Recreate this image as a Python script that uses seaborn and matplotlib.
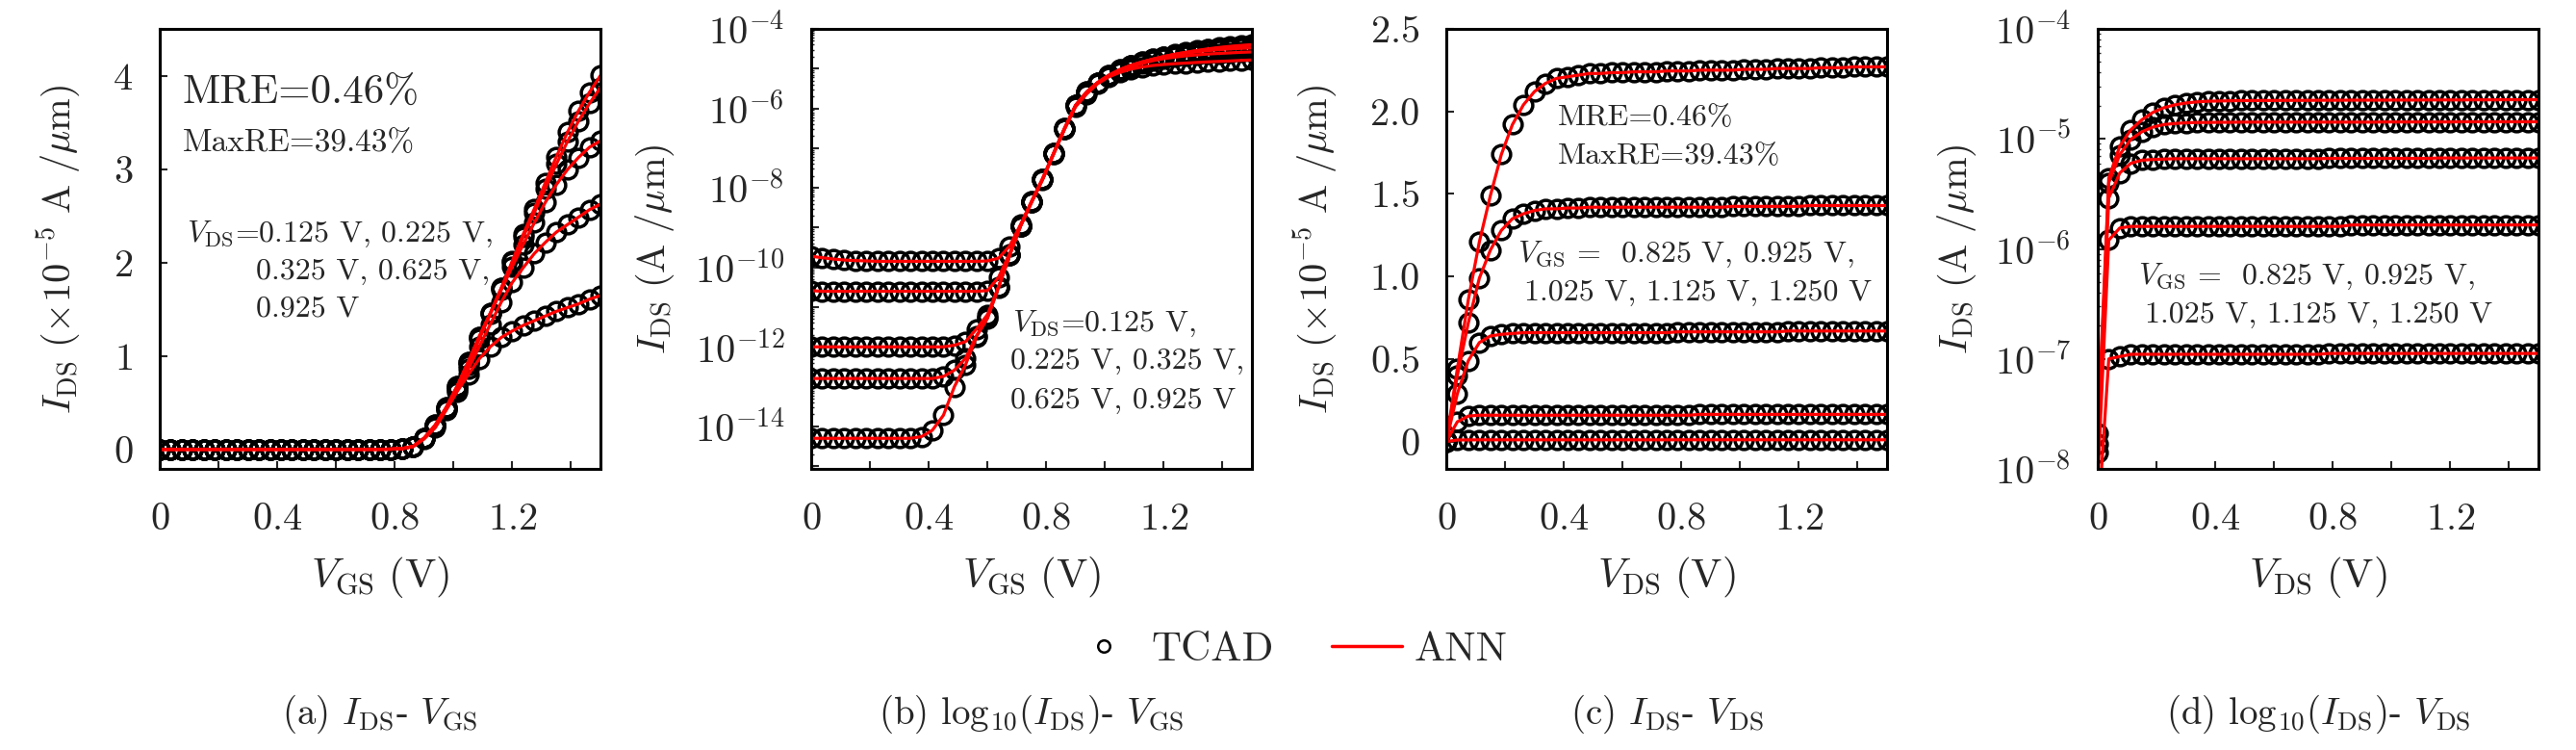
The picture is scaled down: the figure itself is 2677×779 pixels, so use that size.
import numpy as np
import pandas as pd
import matplotlib
matplotlib.use('Agg')
import matplotlib.pyplot as plt
import seaborn as sns
from matplotlib.ticker import MultipleLocator, FuncFormatter, LogLocator, NullFormatter
from matplotlib.lines import Line2D

# sweep voltage (V), same grid for the V_GS and V_DS sweeps
v_sweep = [0.0, 0.0375, 0.075, 0.1125, 0.15, 0.1875, 0.225, 0.2625, 0.3, 0.3375,
           0.375, 0.4125, 0.45, 0.4875, 0.525, 0.5625, 0.6, 0.6375, 0.675, 0.7125,
           0.75, 0.7875, 0.825, 0.8625, 0.9, 0.9375, 0.975, 1.0125, 1.05, 1.0875,
           1.125, 1.1625, 1.2, 1.2375, 1.275, 1.3125, 1.35, 1.3875, 1.425, 1.4625, 1.5]

# I_DS - V_GS (A/um), one list per V_DS
ids_vds0925 = [1.9e-10, 1.75e-10, 1.62e-10, 1.53e-10, 1.48e-10, 1.45e-10, 1.42e-10, 1.42e-10, 1.42e-10, 1.42e-10,
               1.42e-10, 1.42e-10, 1.42e-10, 1.42e-10, 1.42e-10, 1.42e-10, 1.45e-10, 1.7e-10, 3.4e-10, 1.2e-9,
               4.6e-9, 1.7e-8, 7.5e-8, 3.2e-7, 1.2e-6, 2.6e-6, 4.5e-6, 6.8e-6, 9.4e-6, 1.21e-5,
               1.46e-5, 1.73e-5, 2.02e-5, 2.31e-5, 2.58e-5, 2.86e-5, 3.14e-5, 3.40e-5, 3.63e-5, 3.83e-5, 4.01e-5]
ids_vds0625 = [2.6e-11, 2.5e-11, 2.5e-11, 2.5e-11, 2.5e-11, 2.5e-11, 2.5e-11, 2.5e-11, 2.5e-11, 2.5e-11,
               2.5e-11, 2.5e-11, 2.5e-11, 2.5e-11, 2.5e-11, 2.5e-11, 2.6e-11, 5.6e-11, 2.2e-10, 1.1e-9,
               4.5e-9, 1.7e-8, 7.4e-8, 3.2e-7, 1.2e-6, 2.6e-6, 4.5e-6, 6.8e-6, 9.4e-6, 1.21e-5,
               1.46e-5, 1.73e-5, 2.01e-5, 2.28e-5, 2.54e-5, 2.80e-5, 3.06e-5, 3.30e-5, 3.52e-5, 3.71e-5, 3.88e-5]
ids_vds0325 = [1.0e-12, 1.0e-12, 1.0e-12, 1.0e-12, 1.0e-12, 1.0e-12, 1.0e-12, 1.0e-12, 1.0e-12, 1.0e-12,
               1.0e-12, 1.0e-12, 1.0e-12, 1.1e-12, 1.35e-12, 2.8e-12, 6.5e-12, 3.2e-11, 2.0e-10, 1.1e-9,
               4.4e-9, 1.65e-8, 7.3e-8, 3.1e-7, 1.2e-6, 2.5e-6, 4.4e-6, 6.6e-6, 9.1e-6, 1.18e-5,
               1.45e-5, 1.71e-5, 1.96e-5, 2.20e-5, 2.43e-5, 2.65e-5, 2.84e-5, 3.00e-5, 3.13e-5, 3.24e-5, 3.31e-5]
ids_vds0225 = [1.6e-13, 1.6e-13, 1.6e-13, 1.6e-13, 1.6e-13, 1.6e-13, 1.6e-13, 1.6e-13, 1.6e-13, 1.6e-13,
               1.6e-13, 1.6e-13, 1.8e-13, 2.6e-13, 5.1e-13, 1.9e-12, 5.5e-12, 3.2e-11, 2.0e-10, 1.1e-9,
               4.4e-9, 1.65e-8, 7.2e-8, 3.1e-7, 1.2e-6, 2.5e-6, 4.3e-6, 6.4e-6, 8.6e-6, 1.10e-5,
               1.34e-5, 1.58e-5, 1.79e-5, 1.95e-5, 2.10e-5, 2.22e-5, 2.33e-5, 2.41e-5, 2.49e-5, 2.57e-5, 2.63e-5]
ids_vds0125 = [5.0e-15, 5.0e-15, 5.0e-15, 5.0e-15, 5.0e-15, 5.0e-15, 5.0e-15, 5.0e-15, 5.0e-15, 5.0e-15,
               5.5e-15, 8.0e-15, 1.9e-14, 1.0e-13, 3.5e-13, 1.8e-12, 5.2e-12, 3.1e-11, 2.0e-10, 1.1e-9,
               4.3e-9, 1.6e-8, 7.0e-8, 3.0e-7, 1.1e-6, 2.3e-6, 4.2e-6, 6.2e-6, 8.0e-6, 9.7e-6,
               1.10e-5, 1.20e-5, 1.27e-5, 1.33e-5, 1.38e-5, 1.43e-5, 1.48e-5, 1.52e-5, 1.56e-5, 1.61e-5, 1.65e-5]

# I_DS - V_DS (x1e-5 A/um), one list per V_GS
ids_vgs1250 = [0.0021, 0.44, 0.86, 1.21, 1.49, 1.74, 1.92, 2.04, 2.12, 2.17,
               2.20, 2.21, 2.22, 2.23, 2.23, 2.235, 2.235, 2.24, 2.24, 2.24,
               2.245, 2.245, 2.245, 2.25, 2.25, 2.25, 2.25, 2.255, 2.255, 2.255,
               2.26, 2.26, 2.26, 2.26, 2.265, 2.265, 2.265, 2.27, 2.27, 2.27, 2.27]
ids_vgs1125 = [0.0017, 0.40, 0.72, 0.99, 1.16, 1.28, 1.35, 1.38, 1.40, 1.41,
               1.41, 1.415, 1.415, 1.42, 1.42, 1.42, 1.42, 1.42, 1.42, 1.42,
               1.42, 1.42, 1.42, 1.42, 1.42, 1.42, 1.425, 1.425, 1.425, 1.425,
               1.425, 1.425, 1.425, 1.43, 1.43, 1.43, 1.43, 1.43, 1.43, 1.43, 1.43]
ids_vgs1025 = [0.0014, 0.29, 0.49, 0.60, 0.64, 0.65, 0.655, 0.66, 0.66, 0.66,
               0.66, 0.66, 0.66, 0.66, 0.66, 0.66, 0.66, 0.66, 0.66, 0.66,
               0.66, 0.665, 0.665, 0.665, 0.665, 0.665, 0.665, 0.665, 0.665, 0.665,
               0.665, 0.67, 0.67, 0.67, 0.67, 0.67, 0.67, 0.67, 0.67, 0.67, 0.67]
ids_vgs0925 = [0.0008, 0.12, 0.155, 0.16, 0.16, 0.16, 0.16, 0.16, 0.16, 0.16,
               0.16, 0.16, 0.16, 0.16, 0.16, 0.16, 0.16, 0.16, 0.16, 0.16,
               0.16, 0.16, 0.16, 0.165, 0.165, 0.165, 0.165, 0.165, 0.165, 0.165,
               0.165, 0.165, 0.165, 0.165, 0.165, 0.165, 0.165, 0.165, 0.165, 0.165, 0.165]
ids_vgs0825 = [0.0003, 0.0100, 0.0105, 0.011, 0.011, 0.011, 0.011, 0.011, 0.011, 0.011,
               0.011, 0.011, 0.011, 0.011, 0.011, 0.011, 0.011, 0.011, 0.011, 0.011,
               0.011, 0.0112, 0.0112, 0.0112, 0.0112, 0.0112, 0.0112, 0.0112, 0.0112, 0.0112,
               0.0112, 0.0112, 0.0112, 0.0112, 0.0112, 0.0112, 0.0112, 0.0112, 0.0112, 0.0112, 0.0112]


def long_frame(curves, to_amp):
    parts = []
    for name, vals in curves.items():
        ids = np.array(vals) * to_amp
        parts.append(pd.DataFrame({'v': v_sweep, 'ids': ids, 'ids_e5': ids * 1e5, 'curve': name}))
    return pd.concat(parts, ignore_index=True)


idvg = long_frame({'0.925': ids_vds0925, '0.625': ids_vds0625, '0.325': ids_vds0325,
                   '0.225': ids_vds0225, '0.125': ids_vds0125}, 1.0)
idvd = long_frame({'1.250': ids_vgs1250, '1.125': ids_vgs1125, '1.025': ids_vgs1025,
                   '0.925': ids_vgs0925, '0.825': ids_vgs0825}, 1e-5)

sns.set_style('ticks')
plt.rcParams.update({
    'font.family': 'serif',
    'font.serif': ['cmr10', 'DejaVu Serif'],
    'mathtext.fontset': 'cm',
    'axes.formatter.use_mathtext': True,
    'axes.unicode_minus': False,
    'axes.linewidth': 2.2,
    'axes.edgecolor': 'black',
})

W, H = 2677, 779
fig = plt.figure(figsize=(W / 100, H / 100), dpi=100)
lefts = [166, 843, 1503, 2180]
axes = [fig.add_axes([x0 / W, (H - 487) / H, 458 / W, 457 / H]) for x0 in lefts]


def draw(ax, df, ycol):
    sns.lineplot(data=df, x='v', y=ycol, units='curve', estimator=None, sort=False, ax=ax,
                 color='black', marker='o', linestyle='none', markersize=13.5,
                 markerfacecolor='none', markeredgecolor='black', markeredgewidth=2.5, legend=False)
    sns.lineplot(data=df, x='v', y=ycol, units='curve', estimator=None, sort=False, ax=ax,
                 color='red', linewidth=2.3, legend=False)


ax_a, ax_b, ax_c, ax_d = axes
ax_b.set_yscale('log')
ax_d.set_yscale('log')
draw(ax_a, idvg, 'ids_e5')
draw(ax_b, idvg, 'ids')
draw(ax_c, idvd, 'ids_e5')
draw(ax_d, idvd, 'ids')

for ax in axes:
    ax.set_xlim(0, 1.5)
    ax.xaxis.set_major_locator(MultipleLocator(0.4))
    ax.xaxis.set_minor_locator(MultipleLocator(0.2))
    ax.xaxis.set_major_formatter(FuncFormatter(lambda v, p: f'${v:g}$'))
    ax.tick_params(which='major', direction='in', top=False, right=False,
                   length=6, width=1.5, labelsize=29)
    ax.tick_params(which='minor', direction='in', top=False, right=False,
                   length=6, width=1.5)
    ax.tick_params(axis='x', which='both', pad=25)
    ax.tick_params(axis='y', which='both', pad=20)
    for s in ax.spines.values():
        s.set_visible(True)
        s.set_linewidth(2.2)

# linear panels
ax_a.set_ylim(-0.21, 4.51)
ax_a.yaxis.set_major_locator(MultipleLocator(1))
ax_a.yaxis.set_major_formatter(FuncFormatter(lambda v, p: f'${v:g}$'))
ax_c.set_ylim(-0.165, 2.5)
ax_c.yaxis.set_major_locator(MultipleLocator(0.5))
ax_c.yaxis.set_major_formatter(FuncFormatter(lambda v, p: '$0$' if abs(v) < 1e-9 else f'${v:.1f}$'))

# log panels
ax_b.set_ylim(10 ** -15.07, 1e-4)
ax_d.set_ylim(1e-8, 1e-4)


def dec_fmt(step):
    def f(v, p):
        e = int(round(np.log10(v)))
        return f'$10^{{{e}}}$' if e % step == 0 else ''
    return f


for ax, step in [(ax_b, 2), (ax_d, 1)]:
    ax.yaxis.set_major_locator(LogLocator(base=10, subs=(1.0,), numticks=30))
    ax.yaxis.set_minor_locator(LogLocator(base=10, subs=np.arange(2, 10), numticks=30))
    ax.yaxis.set_major_formatter(FuncFormatter(dec_fmt(step)))
    ax.yaxis.set_minor_formatter(NullFormatter())
    ax.tick_params(axis='y', which='minor', length=2.5, width=1.0)

# axis labels
ylab_lin = r'$I_{\mathrm{DS}}\ (\times 10^{-5}\ \mathrm{A}\ /\mu\mathrm{m})$'
ylab_log = r'$I_{\mathrm{DS}}\ (\mathrm{A}\ /\mu\mathrm{m})$'
xlab_gs = r'$V_{\mathrm{GS}}\ (\mathrm{V})$'
xlab_ds = r'$V_{\mathrm{DS}}\ (\mathrm{V})$'
for ax, xl, yl, yx in [(ax_a, xlab_gs, ylab_lin, -0.231), (ax_b, xlab_gs, ylab_log, -0.354),
                       (ax_c, xlab_ds, ylab_lin, -0.298), (ax_d, xlab_ds, ylab_log, -0.319)]:
    ax.set_xlabel(xl, fontsize=31, va='center')
    ax.set_ylabel(yl, fontsize=29, va='center')
    ax.xaxis.set_label_coords(0.5, -0.247)
    ax.yaxis.set_label_coords(yx, 0.5)

# annotations
tr = dict(ha='left', va='center')
ax_a.text(0.052, 0.855, 'MRE=0.46%', fontsize=31, transform=ax_a.transAxes, **tr)
ax_a.text(0.052, 0.74, 'MaxRE=39.43%', fontsize=24, transform=ax_a.transAxes, **tr)
ax_a.text(0.061, 0.534, r'$V_{\mathrm{DS}}$=0.125 V, 0.225 V,', fontsize=23, transform=ax_a.transAxes, **tr)
ax_a.text(0.218, 0.449, '0.325 V, 0.625 V,', fontsize=23, transform=ax_a.transAxes, **tr)
ax_a.text(0.218, 0.364, '0.925 V', fontsize=23, transform=ax_a.transAxes, **tr)

ax_b.text(0.457, 0.330, r'$V_{\mathrm{DS}}$=0.125 V,', fontsize=23, transform=ax_b.transAxes, **tr)
ax_b.text(0.451, 0.245, '0.225 V, 0.325 V,', fontsize=23, transform=ax_b.transAxes, **tr)
ax_b.text(0.451, 0.155, '0.625 V, 0.925 V', fontsize=23, transform=ax_b.transAxes, **tr)

ax_c.text(0.252, 0.797, 'MRE=0.46%', fontsize=23, transform=ax_c.transAxes, **tr)
ax_c.text(0.252, 0.710, 'MaxRE=39.43%', fontsize=23, transform=ax_c.transAxes, **tr)
ax_c.text(0.162, 0.488, r'$V_{\mathrm{GS}}$ =  0.825 V, 0.925 V,', fontsize=23, transform=ax_c.transAxes, **tr)
ax_c.text(0.177, 0.400, '1.025 V, 1.125 V, 1.250 V', fontsize=23, transform=ax_c.transAxes, **tr)

ax_d.text(0.092, 0.437, r'$V_{\mathrm{GS}}$ =  0.825 V, 0.925 V,', fontsize=23, transform=ax_d.transAxes, **tr)
ax_d.text(0.107, 0.350, '1.025 V, 1.125 V, 1.250 V', fontsize=23, transform=ax_d.transAxes, **tr)

# shared legend
handles = [Line2D([], [], marker='o', linestyle='none', markersize=9, markerfacecolor='none',
                  markeredgecolor='black', markeredgewidth=1.8),
           Line2D([], [], color='red', linewidth=2.5)]
fig.legend(handles, ['TCAD', 'ANN'], loc='center', bbox_to_anchor=(0.5, 1 - 675 / H), ncol=2,
           frameon=False, fontsize=31, handlelength=1.7, handletextpad=0.3, columnspacing=1.4)

# sub captions
captions = [r'(a) $I_{\mathrm{DS}}$- $V_{\mathrm{GS}}$',
            r'(b) log$_{10}$($I_{\mathrm{DS}}$)- $V_{\mathrm{GS}}$',
            r'(c) $I_{\mathrm{DS}}$- $V_{\mathrm{DS}}$',
            r'(d) log$_{10}$($I_{\mathrm{DS}}$)- $V_{\mathrm{DS}}$']
for x0, cap in zip(lefts, captions):
    fig.text((x0 + 229) / W, 1 - 742 / H, cap, ha='center', va='center', fontsize=28)

fig.savefig('out.png', dpi=100)
